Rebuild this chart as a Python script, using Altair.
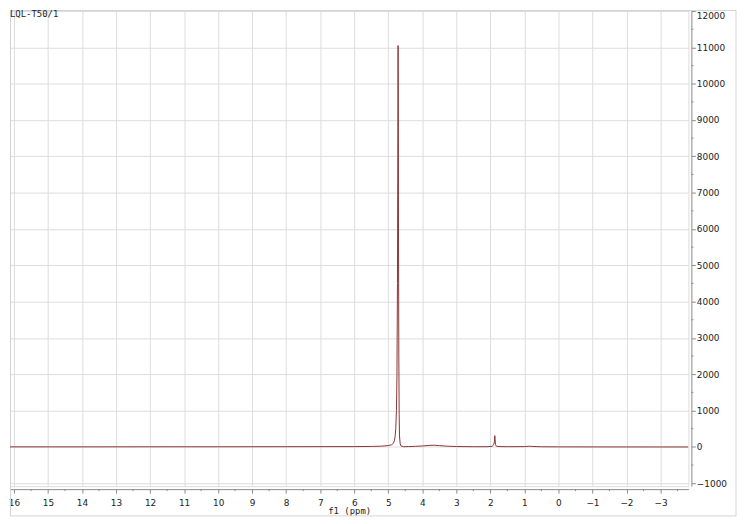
import altair as alt
import pandas as pd

# Spectrum (chemical shift in ppm, intensity)
ppm = [16.117, 14.0, 12.0, 10.0, 8.0, 6.0, 5.5, 5.2, 5.0, 4.9, 4.85, 4.82, 4.80,
       4.78, 4.76, 4.745, 4.73, 4.72, 4.712, 4.705, 4.70, 4.69, 4.68, 4.67, 4.65,
       4.62, 4.55, 4.4, 4.2, 4.0, 3.8, 3.65, 3.5, 3.3, 3.0, 2.5, 2.1, 1.95, 1.90,
       1.88, 1.87, 1.86, 1.85, 1.83, 1.8, 1.5, 1.0, 0.85, 0.75, 0.5, 0.0, -2.0, -3.82]
intensity = [0, 0, 2, 3, 5, 8, 12, 20, 35, 60, 100, 170, 280,
             500, 1000, 2000, 4500, 8000, 11050, 9500, 6000, 2500, 900, 300, 80,
             20, 5, 8, 15, 25, 40, 45, 35, 20, 10, 5, 5, 15, 60,
             160, 310, 200, 70, 25, 10, 5, 8, 18, 10, 3, 0, -2, -3]

x_ticks = list(range(16, -4, -1))
x_minor = [v + 0.5 for v in range(-4, 16)]
y_ticks = list(range(-1000, 12001, 1000))
y_minor = list(range(-500, 12000, 1000))

sample_name = "LQL-T50/1"
x_title = "f1 (ppm)"

W, H = 684, 480
X_DOM = [-3.82, 16.117]
Y_DOM = [-1082, 12027]
GRID = "#dddddd"
AXC = "#8a8a8a"
FONT = "DejaVu Sans"

xs = alt.Scale(domain=X_DOM, reverse=True, nice=False, zero=False)
ys = alt.Scale(domain=Y_DOM, nice=False, zero=False)

xaxis = alt.Axis(values=x_ticks, format="d", grid=True, gridColor=GRID,
                 tickSize=4, offset=3, domainColor=AXC, tickColor=AXC,
                 labelFont=FONT, labelFontSize=9, labelColor="#222",
                 labelPadding=5, titleFont="DejaVu Sans Mono",
                 titleFontSize=9, titleFontWeight="normal",
                 titleColor="#222", titlePadding=0, labelFlush=False)
yaxis = alt.Axis(orient="right", values=y_ticks, format="d", grid=True,
                 gridColor=GRID, tickSize=4, offset=3, domainColor=AXC,
                 tickColor=AXC, labelFont=FONT, labelFontSize=9,
                 labelColor="#222", labelPadding=1, title=None,
                 labelFlush=3)

spec = pd.DataFrame({"ppm": ppm, "intensity": intensity})

line = alt.Chart(spec).mark_line(color="#8b3535", strokeWidth=1, clip=True).encode(
    x=alt.X("ppm:Q", scale=xs, title=x_title, axis=xaxis),
    y=alt.Y("intensity:Q", scale=ys, axis=yaxis),
)

xminor = alt.Chart(pd.DataFrame({"ppm": x_minor})).mark_rule(color=AXC).encode(
    x=alt.X("ppm:Q", scale=xs, title=x_title, axis=xaxis),
    y=alt.value(H + 3), y2=alt.value(H + 5),
)

yminor = alt.Chart(pd.DataFrame({"intensity": y_minor})).mark_rule(color=AXC).encode(
    y=alt.Y("intensity:Q", scale=ys, axis=yaxis),
    x=alt.value(W + 3), x2=alt.value(W + 5),
)

frame = alt.Chart(pd.DataFrame({"a": [0]})).mark_rect(
    filled=False, stroke="#d2d2d2", strokeWidth=1).encode(
    x=alt.value(0.5), y=alt.value(0.5), x2=alt.value(732), y2=alt.value(510))

label = alt.Chart(pd.DataFrame({"t": [sample_name]})).mark_text(
    align="left", baseline="top", font="DejaVu Sans Mono", fontSize=9,
    color="#222").encode(x=alt.value(0), y=alt.value(0), text="t:N")

chart = alt.layer(frame, line, xminor, yminor, label).properties(
    width=W, height=H,
    padding={"left": 0, "top": 0, "right": 1, "bottom": 0},
).configure_view(stroke=None).configure(background="white")

chart.save("out.html", embed_options={"renderer": "svg", "actions": False})
